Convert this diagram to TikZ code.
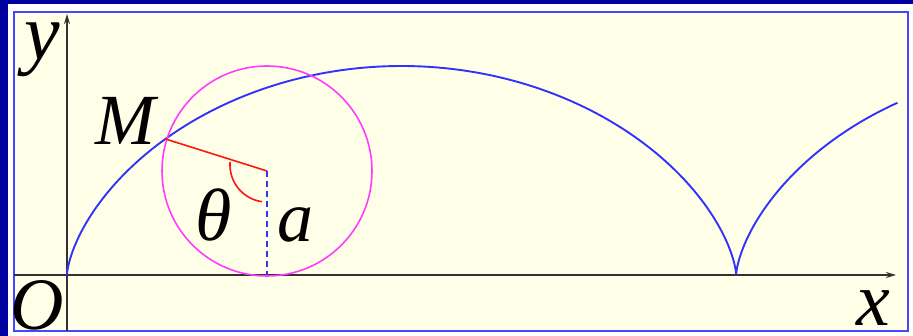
\documentclass[tikz,border=0pt]{standalone}
\usepackage{fontspec}
\setmainfont{Liberation Serif}
\usetikzlibrary{arrows.meta}
\definecolor{navy}{RGB}{0,0,160}
\definecolor{framecol}{RGB}{70,70,255}
\definecolor{cream}{RGB}{255,255,232}
\definecolor{curveblue}{RGB}{50,50,255}
\definecolor{circmag}{RGB}{255,60,255}
\definecolor{redline}{RGB}{255,20,20}
\definecolor{axisgray}{RGB}{50,50,50}
\tikzset{
  lbl/.style={anchor=base, inner sep=0pt, font=\itshape},
  axis/.style={draw=axisgray, line width=1.7pt, -{Stealth[length=10pt,width=6pt]}},
  cyc/.style={draw=curveblue, line width=1.9pt},
  rollc/.style={draw=circmag, line width=1.6pt},
  radius line/.style={draw=redline, line width=1.6pt},
  dashline/.style={draw=curveblue, line width=1.6pt, dash pattern=on 6pt off 4pt}
}
\begin{document}
\begin{tikzpicture}[x=1pt,y=-1pt]
\useasboundingbox (0,0) rectangle (913,336);
\fill[white] (0,0) rectangle (913,336);
\fill[navy] (0,0) rectangle (913,4.5);
\fill[navy] (0,0) rectangle (7.5,336);
\draw[framecol, line width=2.2pt, fill=cream] (14,12) rectangle (908,331);
% axes
\coordinate (xs) at (14,275);
\coordinate (xe) at (896,275);
\coordinate (ys) at (67,331);
\coordinate (ye) at (67,14);
\draw[axis] (xs) -- (xe);
\draw[axis] (ys) -- (ye);
% cycloid
\draw[cyc] plot[domain=0:8.563, samples=300, smooth] ({67+106.5*(\x-sin(\x r))},{275-104.5*(1-cos(\x r))});
% rolling circle
\coordinate (C) at (267,171);
\coordinate (M) at (165.5,139);
\coordinate (B) at (267,275);
\draw[rollc] (C) circle[radius=105];
\draw[radius line] (M) -- (C);
\draw[dashline] (C) -- (B);
\draw[radius line] plot[domain=175:262, samples=40, smooth] ({267+37*cos(\x)},{165-37*sin(\x)});
% labels
\node[lbl, font=\itshape\fontsize{72}{72}\selectfont] (lM) at (125,145) {M};
\node[lbl, font=\itshape\fontsize{74}{74}\selectfont] (lth) at (214,241) {θ};
\node[lbl, font=\itshape\fontsize{72}{72}\selectfont] (la) at (295,242) {a};
\node[lbl, font=\itshape\fontsize{74}{74}\selectfont] (lO) at (37,330) {O};
\node[lbl, font=\itshape\fontsize{76}{76}\selectfont] (lx) at (873,326) {x};
\node[lbl, font=\itshape\fontsize{80}{80}\selectfont] (ly) at (42,60) {y};
\end{tikzpicture}
\end{document}
